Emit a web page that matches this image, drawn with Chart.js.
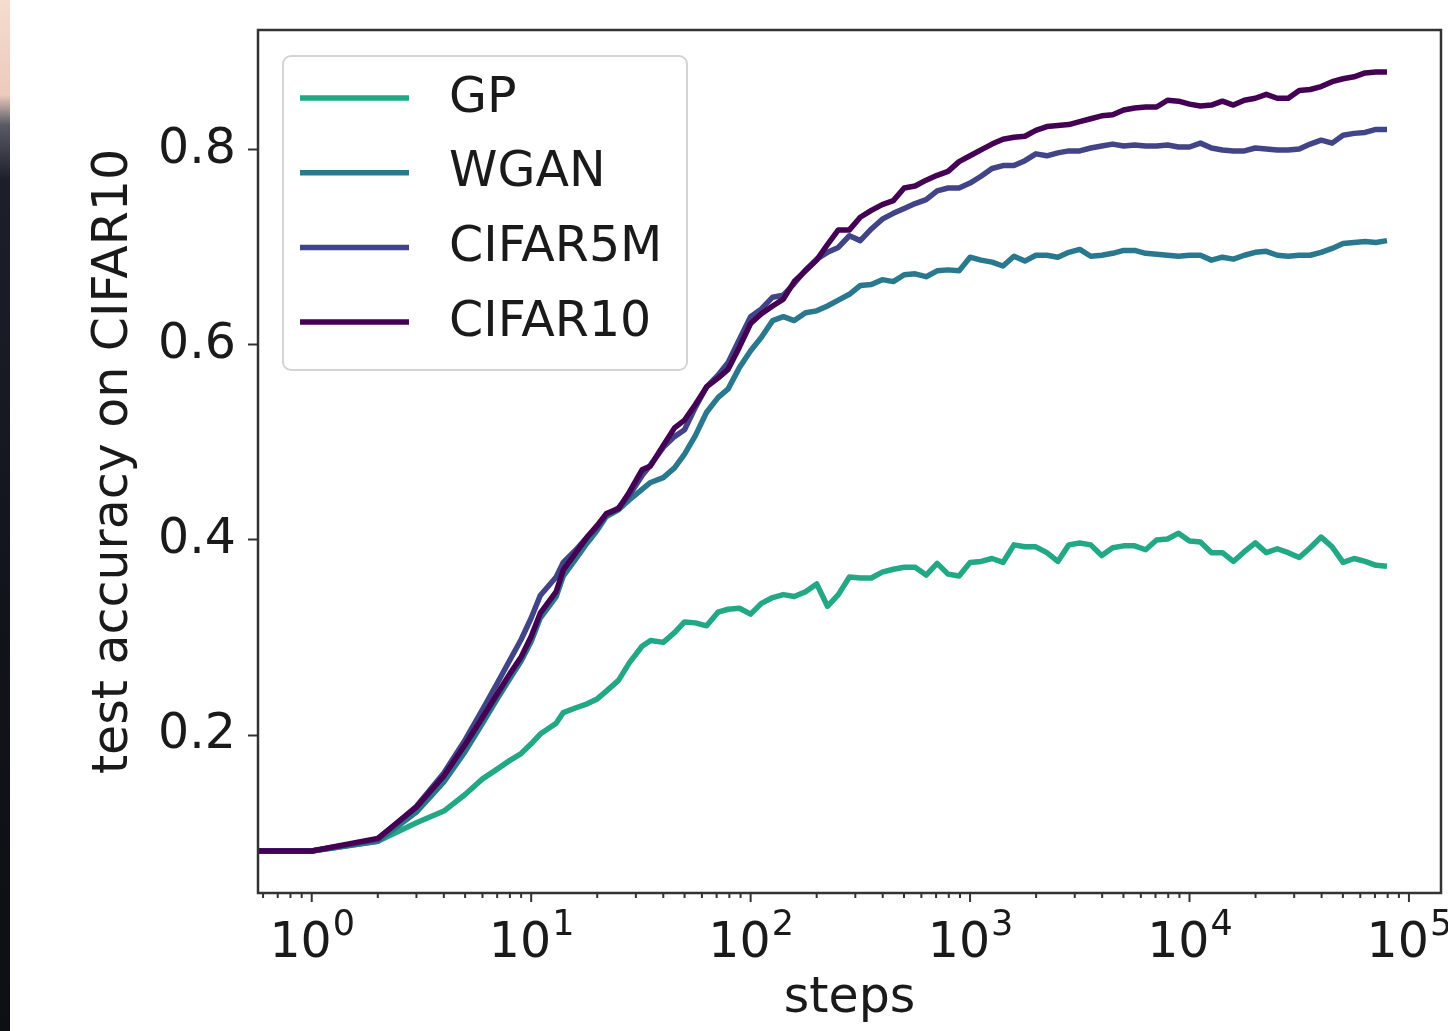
<!DOCTYPE html>
<html>
<head>
<meta charset="utf-8">
<script src="https://cdn.jsdelivr.net/npm/chart.js@4.4.1/dist/chart.umd.min.js"></script>
<style>
  html, body { margin: 0; padding: 0; background: #fff; }
  #wrap { position: relative; width: 1448px; height: 1031px; overflow: hidden; }
  canvas { position: absolute; left: 0; top: 0; }
  #edge { position: absolute; left: 0; top: 0; width: 10px; height: 1031px;
    background: linear-gradient(to bottom, #f4dccf 0px, #eccbbd 95px, #5a5a66 125px, #1c1f2a 180px, #12141c 600px, #0e0f14 1031px); }
</style>
</head>
<body>
<div id="wrap">
  <canvas id="chart" width="1448" height="1031"></canvas>
  <div id="edge"></div>
</div>
<script>
// training steps (x); step 0 sits at the left edge like matplotlib's clipped log axis
const steps = [0, 1, 2, 3, 4, 5, 6, 7, 8, 9,
  10, 11, 13, 14, 16, 18, 20, 22, 25, 28,
  32, 35, 40, 45, 50, 56, 63, 71, 79, 89,
  100, 112, 126, 141, 158, 178, 200, 224, 251, 282,
  316, 355, 398, 447, 501, 562, 631, 708, 794, 891,
  1000, 1122, 1259, 1413, 1585, 1778, 1995, 2239, 2512, 2818,
  3162, 3548, 3981, 4467, 5012, 5623, 6310, 7079, 7943, 8913,
  10000, 11220, 12589, 14125, 15849, 17783, 19953, 22387, 25119, 28184,
  31623, 35481, 39811, 44668, 50119, 56234, 63096, 70795, 79433];

const gp = [0.081, 0.081, 0.091, 0.110, 0.122, 0.139, 0.155, 0.165, 0.174, 0.181,
  0.191, 0.201, 0.212, 0.223, 0.228, 0.232, 0.237, 0.245, 0.256, 0.274,
  0.291, 0.297, 0.295, 0.305, 0.316, 0.315, 0.312, 0.326, 0.329, 0.330,
  0.324, 0.335, 0.341, 0.344, 0.342, 0.347, 0.355, 0.332, 0.344, 0.362,
  0.361, 0.361, 0.367, 0.370, 0.372, 0.372, 0.364, 0.376, 0.365, 0.363,
  0.377, 0.378, 0.381, 0.377, 0.395, 0.393, 0.393, 0.387, 0.378, 0.395,
  0.397, 0.395, 0.384, 0.392, 0.394, 0.394, 0.390, 0.400, 0.401, 0.407,
  0.399, 0.398, 0.387, 0.387, 0.378, 0.388, 0.397, 0.387, 0.391, 0.387,
  0.382, 0.392, 0.403, 0.393, 0.377, 0.381, 0.378, 0.374, 0.373];

const wgan = [0.081, 0.081, 0.091, 0.121, 0.152, 0.183, 0.212, 0.237, 0.258, 0.276,
  0.296, 0.320, 0.342, 0.363, 0.381, 0.397, 0.410, 0.424, 0.431, 0.441,
  0.452, 0.459, 0.464, 0.474, 0.488, 0.507, 0.531, 0.546, 0.555, 0.577,
  0.594, 0.608, 0.625, 0.629, 0.625, 0.633, 0.635, 0.640, 0.646, 0.652,
  0.661, 0.662, 0.667, 0.665, 0.672, 0.673, 0.670, 0.676, 0.677, 0.676,
  0.690, 0.687, 0.685, 0.681, 0.691, 0.686, 0.692, 0.692, 0.690, 0.695,
  0.698, 0.691, 0.692, 0.694, 0.697, 0.697, 0.694, 0.693, 0.692, 0.691,
  0.692, 0.692, 0.687, 0.690, 0.688, 0.692, 0.695, 0.696, 0.692, 0.691,
  0.692, 0.692, 0.695, 0.699, 0.704, 0.705, 0.706, 0.705, 0.707];

const cifar5m = [0.081, 0.081, 0.093, 0.127, 0.161, 0.195, 0.226, 0.253, 0.277, 0.298,
  0.320, 0.343, 0.362, 0.377, 0.390, 0.403, 0.413, 0.426, 0.433, 0.446,
  0.466, 0.477, 0.495, 0.506, 0.513, 0.536, 0.557, 0.569, 0.582, 0.606,
  0.629, 0.637, 0.649, 0.651, 0.663, 0.677, 0.688, 0.695, 0.700, 0.712,
  0.707, 0.719, 0.729, 0.735, 0.740, 0.745, 0.749, 0.758, 0.761, 0.761,
  0.766, 0.773, 0.781, 0.784, 0.784, 0.789, 0.796, 0.794, 0.797, 0.799,
  0.799, 0.802, 0.804, 0.806, 0.804, 0.805, 0.804, 0.804, 0.805, 0.803,
  0.803, 0.807, 0.802, 0.800, 0.799, 0.799, 0.802, 0.801, 0.800, 0.800,
  0.801, 0.806, 0.810, 0.807, 0.815, 0.817, 0.818, 0.821, 0.821];

const cifar10 = [0.081, 0.081, 0.094, 0.126, 0.158, 0.190, 0.218, 0.242, 0.263, 0.280,
  0.301, 0.325, 0.347, 0.369, 0.387, 0.403, 0.415, 0.427, 0.432, 0.449,
  0.472, 0.476, 0.497, 0.515, 0.523, 0.539, 0.557, 0.566, 0.575, 0.598,
  0.622, 0.632, 0.640, 0.647, 0.665, 0.676, 0.687, 0.703, 0.718, 0.718,
  0.731, 0.738, 0.744, 0.748, 0.761, 0.763, 0.769, 0.774, 0.778, 0.788,
  0.794, 0.800, 0.806, 0.811, 0.813, 0.814, 0.820, 0.824, 0.825, 0.826,
  0.829, 0.832, 0.835, 0.836, 0.841, 0.843, 0.844, 0.844, 0.851, 0.850,
  0.847, 0.845, 0.846, 0.850, 0.846, 0.851, 0.853, 0.857, 0.853, 0.853,
  0.861, 0.862, 0.865, 0.870, 0.873, 0.875, 0.879, 0.880, 0.880];

const seriesNames = ['GP', 'WGAN', 'CIFAR5M', 'CIFAR10'];
const seriesColors = ['#22a884', '#2a788e', '#414487', '#440154'];

const xMajors = [1, 10, 100, 1000, 10000, 100000];
const xTickBase = '10';
const xTickExps = ['0', '1', '2', '3', '4', '5'];
const yTicks = [0.2, 0.4, 0.6, 0.8];
const yTickLabels = ['0.2', '0.4', '0.6', '0.8'];

const X_MIN = 0.569, X_MAX = 140000;
const TXT = '#1a1a1a';
const SPINE = '#333333';
const FAMILY = "'DejaVu Sans', sans-serif";

// minor ticks 2..9 in every decade, plus the majors
const xTickValues = [];
[0.1, 1, 10, 100, 1000, 10000].forEach(d => {
  for (let m = 1; m <= 9; m++) {
    const v = m === 1 ? d : +(m * d).toPrecision(6);
    if (v >= X_MIN && v <= X_MAX) xTickValues.push(v);
  }
});
xTickValues.push(100000);

Chart.defaults.font.family = FAMILY;
Chart.defaults.color = TXT;

const series = [gp, wgan, cifar5m, cifar10];
const datasets = series.map((vals, i) => ({
  label: seriesNames[i],
  data: steps.map((s, j) => ({ x: s, y: vals[j] })),
  borderColor: seriesColors[i],
  backgroundColor: seriesColors[i],
  borderWidth: 5.5,
  borderJoinStyle: 'round',
  pointRadius: 0,
  tension: 0,
  order: series.length - i
}));

const frameAndLegend = {
  id: 'frameAndLegend',
  afterDatasetsDraw(chart) {
    const { ctx, chartArea: a } = chart;
    const xs = chart.scales.x;
    ctx.save();

    // x tick marks: long for decades, short for minors
    ctx.strokeStyle = SPINE;
    ctx.lineWidth = 2;
    xs.ticks.forEach(t => {
      const px = xs.getPixelForValue(t.value);
      if (px < a.left - 1 || px > a.right + 1) return;
      const len = xMajors.includes(t.value) ? 9 : 5;
      ctx.beginPath();
      ctx.moveTo(px, a.bottom);
      ctx.lineTo(px, a.bottom + len);
      ctx.stroke();
    });

    // decade labels with a raised exponent, mathtext style
    ctx.fillStyle = TXT;
    ctx.textBaseline = 'alphabetic';
    ctx.textAlign = 'left';
    xMajors.forEach((v, i) => {
      const px = xs.getPixelForValue(v);
      ctx.font = '49px ' + FAMILY;
      const wb = ctx.measureText(xTickBase).width;
      ctx.font = '35px ' + FAMILY;
      const we = ctx.measureText(xTickExps[i]).width;
      const x0 = px - (wb + we) / 2;
      ctx.font = '49px ' + FAMILY;
      ctx.fillText(xTickBase, x0, a.bottom + 64);
      ctx.font = '35px ' + FAMILY;
      ctx.fillText(xTickExps[i], x0 + wb + 1, a.bottom + 42);
    });

    // spines
    ctx.lineWidth = 2.5;
    ctx.strokeStyle = SPINE;
    ctx.strokeRect(a.left, a.top, a.right - a.left, a.bottom - a.top);

    // legend box
    const bx = a.left + 25, by = a.top + 26, bw = 404, bh = 314;
    ctx.beginPath();
    ctx.roundRect(bx, by, bw, bh, 8);
    ctx.fillStyle = 'rgba(255,255,255,0.85)';
    ctx.fill();
    ctx.strokeStyle = '#d4d4d4';
    ctx.lineWidth = 2;
    ctx.stroke();

    ctx.font = '49px ' + FAMILY;
    ctx.textBaseline = 'middle';
    chart.data.datasets.forEach((ds, i) => {
      const y = by + 42 + i * 74.7;
      ctx.strokeStyle = ds.borderColor;
      ctx.lineWidth = 5.5;
      ctx.beginPath();
      ctx.moveTo(bx + 17, y);
      ctx.lineTo(bx + 126, y);
      ctx.stroke();
      ctx.fillStyle = TXT;
      ctx.fillText(ds.label, bx + 166, y + 1);
    });
    ctx.restore();
  }
};

new Chart(document.getElementById('chart'), {
  type: 'line',
  data: { datasets },
  plugins: [frameAndLegend],
  options: {
    responsive: false,
    animation: false,
    devicePixelRatio: 1,
    layout: { padding: { left: 0, right: 7, top: 30, bottom: 0 } },
    plugins: { legend: { display: false }, tooltip: { enabled: false } },
    scales: {
      x: {
        type: 'logarithmic',
        min: X_MIN,
        max: X_MAX,
        afterBuildTicks: s => { s.ticks = xTickValues.map(v => ({ value: v, major: xMajors.includes(v) })); },
        afterFit: s => { s.height = 138; s.paddingLeft = 0; s.paddingRight = 0; },
        ticks: { autoSkip: false, maxRotation: 0, minRotation: 0, padding: 8, font: { size: 49 }, callback: () => '' },
        grid: { drawOnChartArea: false, drawTicks: true, tickLength: 9, tickColor: 'rgba(0,0,0,0)' },
        border: { display: false },
        title: { display: true, text: 'steps', font: { size: 49 }, color: TXT, padding: { top: 0, bottom: 2 } }
      },
      y: {
        min: 0.038,
        max: 0.923,
        afterBuildTicks: s => { s.ticks = yTicks.map(v => ({ value: v })); },
        afterFit: s => { s.width = 258; s.paddingTop = 0; s.paddingBottom = 0; },
        ticks: {
          padding: 12, font: { size: 49 }, color: TXT,
          callback: v => { const i = yTicks.indexOf(v); return i < 0 ? '' : yTickLabels[i]; }
        },
        grid: { drawOnChartArea: false, tickLength: 10, tickColor: SPINE, tickWidth: 2 },
        border: { display: false },
        title: { display: true, text: 'test accuracy on CIFAR10', font: { size: 49 }, color: TXT, padding: { top: 85, bottom: 0 } }
      }
    }
  }
});
</script>
</body>
</html>
